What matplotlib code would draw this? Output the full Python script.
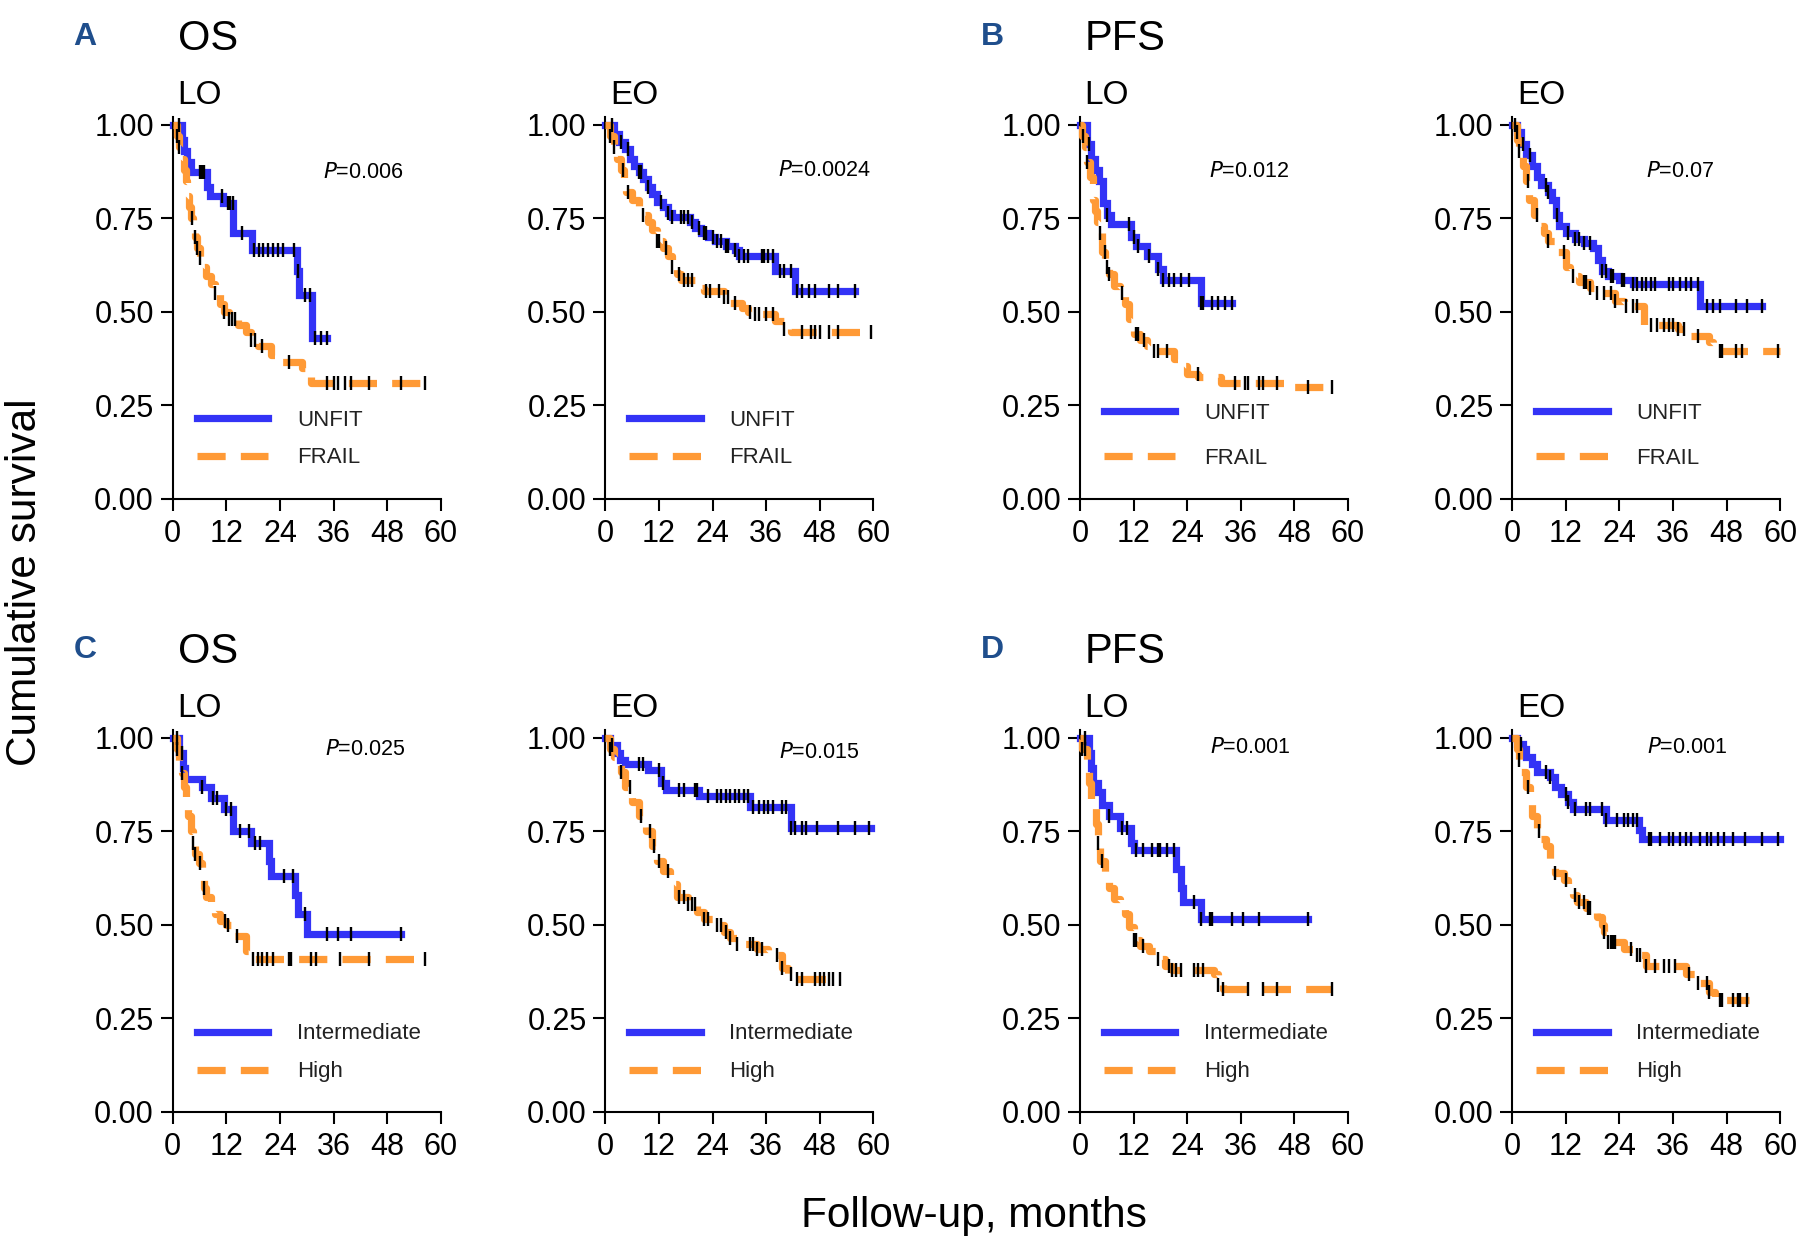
import numpy as np
import matplotlib.pyplot as plt

plt.rcParams['font.family'] = ['Liberation Sans', 'DejaVu Sans']

BLUE = '#3333f6'
ORANGE = '#ff9a36'
LETTER = '#1f4e8c'

# ---------------- A: OS, LO ----------------
a_lo_unfit_t = [0, 2, 2.6, 3.2, 4, 7.6, 8.4, 11.2, 13.6, 17.7, 27.8, 28.3, 31.1, 34.5]
a_lo_unfit_s = [1.0, 0.96, 0.93, 0.90, 0.875, 0.835, 0.81, 0.79, 0.71, 0.665, 0.61, 0.545, 0.43, 0.43]
a_lo_unfit_c = [1.5, 6, 6.6, 7.1, 11.1, 12.3, 12.9, 13.4, 15.4, 18.3, 19.3, 20.3, 21.4, 22.5,
                23.6, 24.7, 27.1, 28.1, 29.6, 30.7, 31.8, 33.2, 34.5]
a_lo_frail_t = [0, 1, 1.5, 2, 2.5, 3, 3.3, 3.7, 4, 4.5, 5, 5.5, 6, 7, 7.5, 8.5, 9.5, 10.5, 11.5,
                12.5, 14.5, 16.5, 17.5, 19, 22, 23, 29, 30, 31, 56.5]
a_lo_frail_s = [1.0, 0.97, 0.94, 0.91, 0.88, 0.85, 0.81, 0.78, 0.75, 0.73, 0.70, 0.67, 0.645,
                0.62, 0.595, 0.575, 0.55, 0.52, 0.50, 0.48, 0.465, 0.445, 0.425, 0.41, 0.385,
                0.365, 0.35, 0.33, 0.31, 0.31]
a_lo_frail_c = [1, 1.5, 4.3, 5, 5.5, 6.2, 9.5, 11.5, 12.5, 13.2, 14, 17.5, 18.5, 20, 26, 34.5,
                36, 37, 38.5, 40, 44, 51, 56.5]

# ---------------- A: OS, EO ----------------
a_eo_unfit_t = [0, 2, 3, 4.5, 5.5, 6.5, 7.5, 8.5, 9.5, 10.5, 11.5, 13, 14, 15, 19, 20, 21.5, 23,
                24.5, 27, 29, 30, 38, 42.5, 56]
a_eo_unfit_s = [1.0, 0.975, 0.955, 0.935, 0.91, 0.89, 0.875, 0.855, 0.835, 0.815, 0.795, 0.78,
                0.765, 0.755, 0.74, 0.725, 0.71, 0.70, 0.69, 0.675, 0.665, 0.65, 0.61, 0.555, 0.555]
a_eo_unfit_c = [1.5, 3.5, 5, 7.5, 8, 9.5, 12.5, 14, 15, 17, 17.5, 18.5, 19.5, 21, 22, 22.5, 24,
                25, 26, 27, 27.5, 29, 30, 31, 32, 35, 35.5, 36.5, 37.5, 39, 40, 41.5, 43, 44,
                45.5, 47, 50, 52, 56]
a_eo_frail_t = [0, 1, 2, 2.5, 3.5, 4.2, 4.6, 6, 7.5, 8.5, 9.5, 10.5, 11.5, 13, 14, 15, 16, 17,
                20.5, 22, 26.5, 28, 30.5, 32, 33, 38, 40, 41.5, 60]
a_eo_frail_s = [1.0, 0.97, 0.94, 0.91, 0.88, 0.85, 0.82, 0.80, 0.78, 0.76, 0.74, 0.72, 0.69,
                0.67, 0.65, 0.62, 0.60, 0.585, 0.565, 0.555, 0.54, 0.525, 0.51, 0.50, 0.495,
                0.475, 0.455, 0.445, 0.445]
a_eo_frail_c = [1, 2, 4, 5, 8.5, 11.5, 12, 13.5, 15, 16.5, 17.5, 18.5, 19.5, 22.5, 23.5, 25.5,
                26.5, 27.5, 29, 32.5, 33.5, 34.5, 36, 37.5, 40, 44, 46, 47, 48, 50, 52, 59.5]

# ---------------- B: PFS, LO ----------------
b_lo_unfit_t = [0, 1.5, 2.5, 3.3, 4.3, 5.2, 6, 7, 11.5, 12.5, 15, 17.5, 18.5, 27, 34]
b_lo_unfit_s = [1.0, 0.95, 0.91, 0.88, 0.85, 0.79, 0.76, 0.735, 0.70, 0.675, 0.65, 0.615, 0.585,
                0.525, 0.525]
b_lo_unfit_c = [2, 6, 11, 12, 13, 15.5, 17.5, 18.5, 20, 21, 22.5, 24.5, 27, 27.5, 29.5, 31,
                32.5, 34]
b_lo_frail_t = [0, 0.5, 1, 1.5, 2.3, 2.8, 3.3, 3.7, 4.2, 5, 5.6, 6.5, 7.5, 9, 10, 11, 12, 13.5,
                15, 16.5, 21, 22.5, 24, 26.5, 31.5, 46, 56.5]
b_lo_frail_s = [1.0, 0.97, 0.94, 0.90, 0.86, 0.80, 0.77, 0.74, 0.71, 0.66, 0.62, 0.60, 0.57,
                0.55, 0.52, 0.48, 0.44, 0.425, 0.41, 0.395, 0.375, 0.355, 0.335, 0.325, 0.31,
                0.30, 0.30]
b_lo_frail_c = [0.7, 1.5, 4.5, 5.5, 6, 6.5, 9.5, 12.5, 13, 14.3, 16.5, 17.5, 19.5, 26.3, 34.7,
                37, 37.5, 40, 41, 44, 51, 56.5]

# ---------------- B: PFS, EO ----------------
b_eo_unfit_t = [0, 1, 2, 3, 4.5, 5.5, 6.5, 8, 9, 9.7, 10.5, 12, 14, 16, 18, 19.3, 20, 21.5, 24,
                27, 42, 56]
b_eo_unfit_s = [1.0, 0.98, 0.95, 0.92, 0.89, 0.86, 0.84, 0.82, 0.80, 0.76, 0.73, 0.71, 0.695,
                0.685, 0.67, 0.64, 0.61, 0.595, 0.585, 0.575, 0.515, 0.515]
b_eo_unfit_c = [1, 2.5, 4, 7.5, 8, 10, 12.5, 14, 15, 16, 17.5, 20, 21, 22, 22.5, 24.5, 25, 27,
                28, 29, 30, 31, 32, 35, 36, 37.5, 39, 40, 41.5, 43.5, 45, 46.5, 50, 52.5, 56]
b_eo_frail_t = [0, 1, 1.5, 2.3, 3, 3.8, 4.8, 6, 7, 8, 10, 12, 13, 15, 17.5, 19, 23, 25, 29.5,
                37, 39, 40, 44, 45, 46, 60]
b_eo_frail_s = [1.0, 0.96, 0.93, 0.89, 0.85, 0.80, 0.76, 0.73, 0.71, 0.69, 0.66, 0.62, 0.595,
                0.58, 0.565, 0.55, 0.53, 0.515, 0.465, 0.455, 0.445, 0.435, 0.42, 0.405, 0.395,
                0.395]
b_eo_frail_c = [0.5, 1.5, 3.5, 5.5, 8, 11.5, 13.5, 16, 16.5, 17.5, 19, 20.5, 22, 23, 25.5, 27,
                28, 31, 32.5, 34, 35, 36, 37, 38.5, 41.5, 46.5, 47, 50, 51.5, 59.5]

# ---------------- C: OS, LO ----------------
c_lo_int_t = [0, 1.5, 2.3, 2.8, 6.5, 8.5, 11.5, 13.5, 17.5, 21.5, 22, 27.3, 28, 30, 51]
c_lo_int_s = [1.0, 0.96, 0.92, 0.89, 0.87, 0.84, 0.81, 0.75, 0.72, 0.67, 0.63, 0.58, 0.53,
              0.475, 0.475]
c_lo_int_c = [1, 2, 6.5, 9, 10, 12, 13, 15, 17, 18.5, 19.5, 25, 27, 29.5, 34.5, 37, 40, 51]
c_lo_high_t = [0, 1, 1.5, 2, 2.5, 3, 3.5, 4, 4.5, 5, 5.8, 6.5, 7, 7.5, 8.5, 9.5, 10.5, 12, 13,
               14, 16.5, 17, 56.5]
c_lo_high_s = [1.0, 0.97, 0.93, 0.905, 0.87, 0.83, 0.79, 0.75, 0.72, 0.69, 0.665, 0.64, 0.60,
               0.575, 0.55, 0.53, 0.51, 0.50, 0.485, 0.47, 0.43, 0.41, 0.41]
c_lo_high_c = [1, 2, 4.5, 5, 6, 7, 11.7, 12.3, 14.3, 18, 19, 20, 21, 22.5, 26, 26.5, 31, 32,
               37.5, 44, 56.5]

# ---------------- C: OS, EO ----------------
c_eo_int_t = [0, 1, 2.5, 3.2, 4.5, 9.5, 12.5, 13.5, 21, 32.5, 41.5, 59.5]
c_eo_int_s = [1.0, 0.98, 0.96, 0.94, 0.93, 0.915, 0.88, 0.86, 0.845, 0.815, 0.76, 0.76]
c_eo_int_c = [1.5, 7.5, 8.5, 12, 13, 16.5, 17.5, 20, 20.5, 23, 25, 26, 27, 28, 29, 30, 31, 32,
              33, 34.5, 35.5, 36.5, 37.5, 39.5, 40.5, 41.5, 42.5, 44, 45, 47.5, 52, 56, 59]
c_eo_high_t = [0, 1, 2, 3.5, 4.5, 6, 7.5, 9, 10.5, 11.5, 13, 14.5, 16, 18.5, 20.5, 22, 24.5,
               26.5, 28, 29.5, 34, 36.5, 39.5, 41, 42.5, 52]
c_eo_high_s = [1.0, 0.97, 0.95, 0.91, 0.87, 0.83, 0.79, 0.75, 0.71, 0.67, 0.645, 0.61, 0.575,
               0.555, 0.535, 0.515, 0.50, 0.48, 0.465, 0.45, 0.435, 0.42, 0.385, 0.37, 0.355,
               0.355]
c_eo_high_c = [1, 3.5, 5.5, 8, 10, 11, 12, 14, 16.5, 17.5, 18.5, 19.5, 20, 22, 23, 25, 26, 27,
               28, 29.5, 32.5, 33, 34, 35, 38.5, 39.5, 41.5, 43, 44, 47, 48, 49, 50, 51, 52.5]

# ---------------- D: PFS, LO ----------------
d_lo_int_t = [0, 2, 2.5, 3, 4, 5, 6.5, 9, 11.5, 12, 21.5, 22.5, 23, 27, 51]
d_lo_int_s = [1.0, 0.96, 0.92, 0.88, 0.855, 0.82, 0.79, 0.76, 0.72, 0.70, 0.65, 0.60, 0.56,
              0.515, 0.515]
d_lo_int_c = [1, 6.5, 9.5, 10.5, 12.5, 14, 16, 17.5, 18, 19.5, 21, 25.5, 27, 29, 29.5, 34,
              36.5, 40, 51]
d_lo_high_t = [0, 0.5, 1.5, 2, 2.5, 3.5, 4, 4.5, 5.5, 6.5, 7.5, 9, 10, 11, 12, 13.5, 15.5, 17,
               19, 20.5, 30, 31, 32, 56.5]
d_lo_high_s = [1.0, 0.97, 0.93, 0.88, 0.82, 0.77, 0.72, 0.67, 0.63, 0.60, 0.57, 0.55, 0.53,
               0.495, 0.46, 0.445, 0.43, 0.41, 0.39, 0.38, 0.37, 0.34, 0.33, 0.33]
d_lo_high_c = [0.5, 1, 4, 5, 12, 12.5, 14, 17.5, 20, 20.5, 21.5, 22.5, 25.5, 26.5, 27.5, 31,
               32, 37.5, 41, 44, 56.5]

# ---------------- D: PFS, EO ----------------
d_eo_int_t = [0, 1, 2.5, 3, 4.5, 5.5, 8.5, 9.5, 11, 12.5, 13.5, 21, 28.3, 29, 60]
d_eo_int_s = [1.0, 0.985, 0.97, 0.95, 0.93, 0.91, 0.895, 0.87, 0.85, 0.83, 0.81, 0.78, 0.755,
              0.73, 0.73]
d_eo_int_c = [2, 7.5, 8.5, 12, 12.5, 14, 16.5, 17.5, 20, 21, 23.5, 25, 26, 27, 28, 30.5, 31,
              33, 35, 36, 37.5, 39, 40, 42, 43.5, 44.5, 46, 47.5, 49.5, 52, 56, 59.5]
d_eo_high_t = [0, 1, 1.5, 2, 3, 4, 4.5, 5.5, 6.5, 7.5, 8.5, 9.5, 11.5, 12.5, 13.5, 14.5, 16.5,
               19, 20, 20.5, 21.5, 25, 27.5, 30, 39, 41, 44, 45.5, 53]
d_eo_high_s = [1.0, 0.97, 0.94, 0.91, 0.87, 0.83, 0.79, 0.75, 0.73, 0.71, 0.67, 0.64, 0.62,
               0.60, 0.58, 0.56, 0.545, 0.52, 0.50, 0.48, 0.455, 0.435, 0.42, 0.39, 0.37, 0.345,
               0.32, 0.30, 0.30]
d_eo_high_c = [1.5, 3.5, 6, 9.5, 12, 14, 15, 16, 17, 17.5, 20.5, 21.5, 22, 22.5, 23, 26.5, 28,
               28.5, 30, 32, 34, 35, 36.5, 39.5, 41.5, 43.5, 44, 46.5, 47, 49.5, 50.5, 51, 52.5]

p_values = ['0.006', '0.0024', '0.012', '0.07', '0.025', '0.015', '0.001', '0.001']
labels_ab = ['UNFIT', 'FRAIL']
labels_cd = ['Intermediate', 'High']

panels = [
    (a_lo_unfit_t, a_lo_unfit_s, a_lo_unfit_c, a_lo_frail_t, a_lo_frail_s, a_lo_frail_c),
    (a_eo_unfit_t, a_eo_unfit_s, a_eo_unfit_c, a_eo_frail_t, a_eo_frail_s, a_eo_frail_c),
    (b_lo_unfit_t, b_lo_unfit_s, b_lo_unfit_c, b_lo_frail_t, b_lo_frail_s, b_lo_frail_c),
    (b_eo_unfit_t, b_eo_unfit_s, b_eo_unfit_c, b_eo_frail_t, b_eo_frail_s, b_eo_frail_c),
    (c_lo_int_t, c_lo_int_s, c_lo_int_c, c_lo_high_t, c_lo_high_s, c_lo_high_c),
    (c_eo_int_t, c_eo_int_s, c_eo_int_c, c_eo_high_t, c_eo_high_s, c_eo_high_c),
    (d_lo_int_t, d_lo_int_s, d_lo_int_c, d_lo_high_t, d_lo_high_s, d_lo_high_c),
    (d_eo_int_t, d_eo_int_s, d_eo_int_c, d_eo_high_t, d_eo_high_s, d_eo_high_c),
]

# layout (figure fractions)
col_left = [0.0956, 0.335, 0.5977, 0.8369]
row_bottom = [0.598, 0.104]
ax_w, ax_h = 0.1483, 0.3074
p_pos = [(33.6, 0.858), (38.7, 0.863), (28.9, 0.861), (29.9, 0.861),
         (34.0, 0.955), (38.8, 0.946), (29.0, 0.960), (30.2, 0.960)]
leg_top = [0.238, 0.238, 0.256, 0.256, 0.237, 0.237, 0.237, 0.237]
leg_space = [0.74, 0.74, 1.07, 1.07, 0.77, 0.77, 0.77, 0.77]


def censor_y(t, s, c):
    idx = np.searchsorted(t, c, side='right') - 1
    return np.asarray(s)[idx]


fig = plt.figure(figsize=(18.07, 12.41), dpi=100)

for k, (t1, s1, c1, t2, s2, c2) in enumerate(panels):
    row, col = k // 4, k % 4
    ax = fig.add_axes([col_left[col], row_bottom[row], ax_w, ax_h])
    labels = labels_ab if row == 0 else labels_cd

    h1, = ax.plot(t1, s1, drawstyle='steps-post', color=BLUE, lw=5.2,
                  solid_joinstyle='miter', label=labels[0], clip_on=False, zorder=2)
    h2, = ax.plot(t2, s2, drawstyle='steps-post', color=ORANGE, lw=5.2,
                  dashes=(3.9, 2.1), label=labels[1], clip_on=False, zorder=3)
    ax.plot(c1, censor_y(t1, s1, c1), ls='none', marker='|', ms=9.5, mew=1.7,
            color='black', clip_on=False, zorder=4)
    ax.plot(c2, censor_y(t2, s2, c2), ls='none', marker='|', ms=9.5, mew=1.7,
            color='black', clip_on=False, zorder=4)

    ax.set_xlim(0, 60)
    ax.set_ylim(0, 1.02)
    ax.set_xticks([0, 12, 24, 36, 48, 60])
    ax.set_yticks([0, 0.25, 0.5, 0.75, 1.0])
    ax.set_yticklabels(['0.00', '0.25', '0.50', '0.75', '1.00'])
    for side in ['top', 'right']:
        ax.spines[side].set_visible(False)
    for side in ['left', 'bottom']:
        ax.spines[side].set_linewidth(1.5)
    ax.tick_params(direction='out', length=8.5, width=1.5, labelsize=22)
    ax.tick_params(axis='y', pad=5)
    ax.tick_params(axis='x', pad=6)

    px, py = p_pos[k]
    ax.text(px, py, r'$\it{P}$' + '=' + p_values[k], fontsize=15.5, color='black')

    leg = ax.legend(handles=[h1, h2], loc='upper left', bbox_to_anchor=(5.4, leg_top[k]),
                    bbox_transform=ax.transData, frameon=False, borderpad=0,
                    borderaxespad=0, handlelength=3.2, handletextpad=1.3,
                    labelspacing=leg_space[k], fontsize=16)
    for txt in leg.get_texts():
        txt.set_color('#222222')

    # sub-title (LO / EO)
    fig.text(col_left[col] + 0.0025, row_bottom[row] + ax_h + 0.0105,
             'LO' if col % 2 == 0 else 'EO', fontsize=24)

# endpoint titles and panel letters
letters = ['A', 'B', 'C', 'D']
endpoints = ['OS', 'PFS', 'OS', 'PFS']
for i in range(4):
    row, col = i // 2, (i % 2) * 2
    base = row_bottom[row] + ax_h
    fig.text(col_left[col] + 0.0028, base + 0.0545, endpoints[i], fontsize=30)
    fig.text(col_left[col] - 0.0485, base + 0.058, letters[i], fontsize=23,
             fontweight='bold', color=LETTER, ha='center')

fig.text(0.014, 0.531, 'Cumulative survival', rotation=90, fontsize=30.5,
         ha='center', va='center')
fig.text(0.539, 0.020, 'Follow-up, months', fontsize=30.5, ha='center', va='center')

fig.savefig('out.png', dpi=100)
